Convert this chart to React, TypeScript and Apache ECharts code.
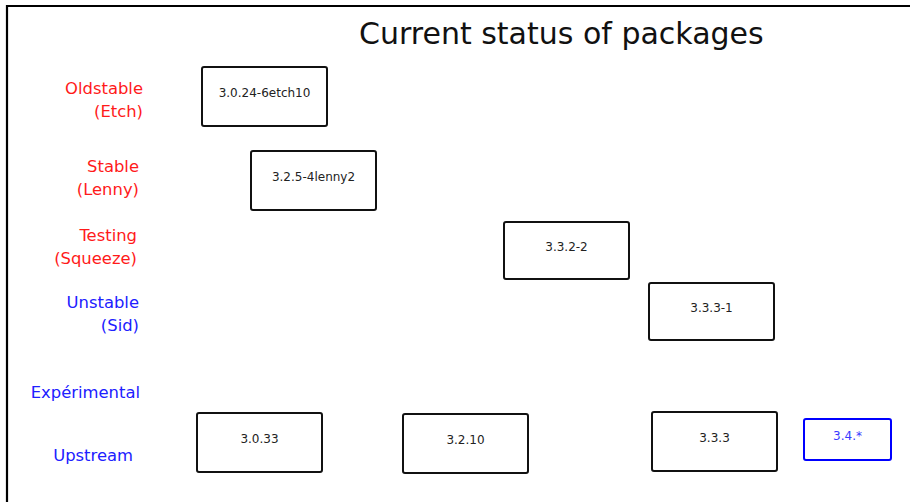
import React, { useEffect, useRef } from "react";
import * as echarts from "echarts";

// Row labels (left side)
const rowLabels = ["Oldstable\n(Etch)", "Stable\n(Lenny)", "Testing\n(Squeeze)", "Unstable\n(Sid)", "Expérimental", "Upstream"];
const rowColors = ["#ff1a1a", "#ff1a1a", "#ff1a1a", "#2020ff", "#2020ff", "#2020ff"];
const rowLabelX = [143, 139, 137, 139, 140, 133];
const rowLabelY = [100, 178, 247, 314, 392, 455];

// Package boxes
const pkgNames = ["3.0.24-6etch10", "3.2.5-4lenny2", "3.3.2-2", "3.3.3-1", "3.0.33", "3.2.10", "3.3.3", "3.4.*"];
const pkgX = [264.5, 313.5, 566.5, 711.5, 259.5, 465.5, 714.5, 847.5];
const pkgY = [96.5, 180.5, 250.5, 311.5, 442.5, 443.5, 441.5, 439.5];
const pkgW = [125, 125, 125, 125, 125, 125, 125, 87];
const pkgH = [59, 59, 57, 57, 59, 59, 59, 41];
const pkgBorder = ["#111", "#111", "#111", "#111", "#111", "#111", "#111", "#0000ff"];
const pkgText = ["#222", "#222", "#222", "#222", "#222", "#222", "#222", "#3a3aff"];

const FONT = "DejaVu Sans";

export default function App() {
  const ref = useRef<HTMLDivElement>(null);
  useEffect(() => {
    if (!ref.current) return;
    const chart = echarts.init(ref.current, undefined, { renderer: "svg" });
    const boxData = pkgNames.map((n, i) => [pkgX[i], pkgY[i], pkgW[i], pkgH[i], i]);
    const labelData = rowLabels.map((l, i) => [rowLabelX[i], rowLabelY[i], i]);
    chart.setOption({
      animation: false,
      backgroundColor: "#fff",
      title: {
        text: "Current status of packages",
        left: 354,
        top: 13,
        textStyle: { fontFamily: FONT, fontSize: 30, fontWeight: "normal", color: "#111" },
      },
      grid: { left: 0, right: 0, top: 0, bottom: 0 },
      xAxis: { type: "value", min: 0, max: 910, show: false },
      yAxis: { type: "value", min: 0, max: 502, inverse: true, show: false },
      graphic: [
        {
          type: "rect",
          shape: { x: 7, y: 6, width: 920, height: 600 },
          style: { fill: "none", stroke: "#000", lineWidth: 2.2 },
          silent: true,
        },
      ],
      series: [
        {
          type: "custom",
          coordinateSystem: "cartesian2d",
          data: boxData,
          renderItem: (params: any, api: any) => {
            const c = api.coord([api.value(0), api.value(1)]);
            const s = api.size([api.value(2), api.value(3)]);
            const i = api.value(4);
            return {
              type: "group",
              children: [
                {
                  type: "rect",
                  shape: { x: c[0] - s[0] / 2, y: c[1] - s[1] / 2, width: s[0], height: s[1], r: 2 },
                  style: { fill: "#fff", stroke: pkgBorder[i], lineWidth: 2 },
                },
                {
                  type: "text",
                  x: c[0],
                  y: c[1] - 3.5,
                  style: {
                    text: pkgNames[i],
                    fill: pkgText[i],
                    font: `12px "${FONT}"`,
                    align: "center",
                    verticalAlign: "middle",
                  },
                },
              ],
            };
          },
        },
        {
          type: "custom",
          coordinateSystem: "cartesian2d",
          data: labelData,
          renderItem: (params: any, api: any) => {
            const c = api.coord([api.value(0), api.value(1)]);
            const i = api.value(2);
            return {
              type: "text",
              x: c[0],
              y: c[1],
              style: {
                text: rowLabels[i],
                fill: rowColors[i],
                font: `16.4px "${FONT}"`,
                lineHeight: 23,
                align: "right",
                verticalAlign: "middle",
              },
            };
          },
        },
      ],
    });
    return () => chart.dispose();
  }, []);
  return (
    <div
      ref={ref}
      style={{ position: "absolute", left: 0, top: 0, width: 910, height: 502 }}
    />
  );
}
